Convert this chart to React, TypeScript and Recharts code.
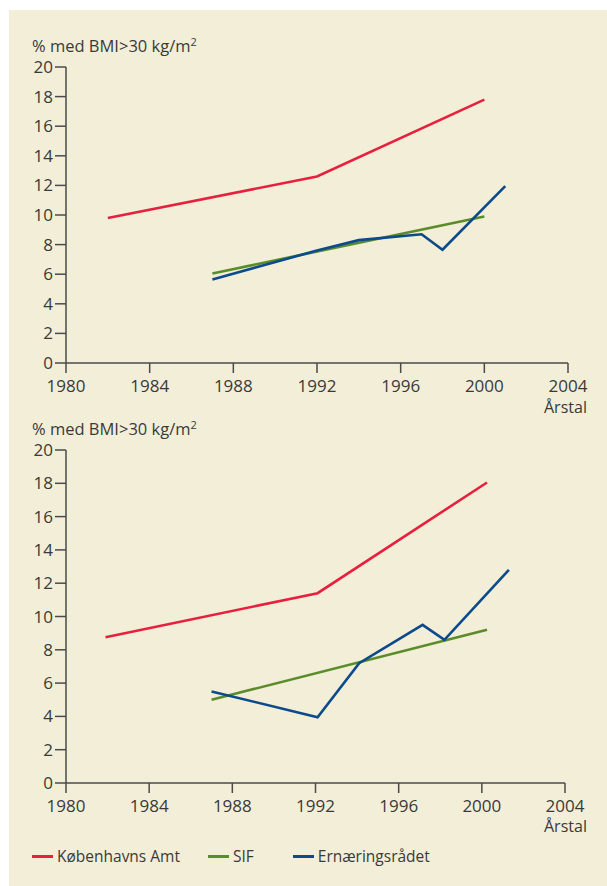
import React from "react";
import { LineChart, Line, XAxis, YAxis } from "recharts";

const xTicks = [1980, 1984, 1988, 1992, 1996, 2000, 2004];
const yTicks = [0, 2, 4, 6, 8, 10, 12, 14, 16, 18, 20];

const seriesNames = ["Københavns Amt", "SIF", "Ernæringsrådet"];
const seriesColors = ["#e8203f", "#5b8c2a", "#0b4a8b"];

// Top chart
const kbhTop = [
  { year: 1982, v: 9.8 },
  { year: 1992, v: 12.6 },
  { year: 2000, v: 17.8 },
];
const sifTop = [
  { year: 1987, v: 6.05 },
  { year: 2000, v: 9.9 },
];
const ernTop = [
  { year: 1987, v: 5.65 },
  { year: 1992, v: 7.6 },
  { year: 1994, v: 8.3 },
  { year: 1997, v: 8.7 },
  { year: 1998, v: 7.65 },
  { year: 2001, v: 11.95 },
];

// Bottom chart
const kbhBottom = [
  { year: 1981.9, v: 8.75 },
  { year: 1992.1, v: 11.4 },
  { year: 2000.25, v: 18.05 },
];
const sifBottom = [
  { year: 1987, v: 5.0 },
  { year: 2000.25, v: 9.2 },
];
const ernBottom = [
  { year: 1987, v: 5.5 },
  { year: 1992.1, v: 3.95 },
  { year: 1994.1, v: 7.2 },
  { year: 1997.15, v: 9.5 },
  { year: 1998.2, v: 8.6 },
  { year: 2001.3, v: 12.8 },
];

const axisColor = "#4a4a4a";
const textColor = "#3a3a3a";
const fontFamily = "'Open Sans', sans-serif";

const tickStyle = { fill: textColor, fontSize: 17, fontFamily };

function Chart({
  series,
  height,
  marginTop,
  marginRight,
}: {
  series: { year: number; v: number }[][];
  height: number;
  marginTop: number;
  marginRight: number;
}) {
  return (
    <LineChart
      width={607}
      height={height}
      margin={{ top: marginTop, right: marginRight, bottom: 0, left: 0 }}
    >
      <XAxis
        type="number"
        dataKey="year"
        domain={[1980, 2004]}
        ticks={xTicks}
        allowDataOverflow
        height={40}
        tickSize={10}
        tickMargin={7}
        stroke={axisColor}
        strokeWidth={1.5}
        tick={tickStyle}
        tickLine={{ stroke: axisColor, strokeWidth: 1.5 }}
        axisLine={{ stroke: axisColor, strokeWidth: 1.5 }}
      />
      <YAxis
        type="number"
        domain={[0, 20]}
        ticks={yTicks}
        width={66}
        tickSize={11}
        tickMargin={2}
        stroke={axisColor}
        strokeWidth={1.5}
        tick={tickStyle}
        tickLine={{ stroke: axisColor, strokeWidth: 1.5 }}
        axisLine={{ stroke: axisColor, strokeWidth: 1.5 }}
        interval={0}
      />
      {series.map((d, i) => (
        <Line
          key={seriesNames[i]}
          data={d}
          dataKey="v"
          name={seriesNames[i]}
          type="linear"
          stroke={seriesColors[i]}
          strokeWidth={2.6}
          dot={false}
          activeDot={false}
          isAnimationActive={false}
        />
      ))}
    </LineChart>
  );
}

const labelStyle: React.CSSProperties = {
  position: "absolute",
  fontFamily,
  color: textColor,
  whiteSpace: "nowrap",
};

function YLabel({ top }: { top: number }) {
  return (
    <div style={{ ...labelStyle, fontSize: 16.5, lineHeight: "16px", left: 32, top }}>
      % med BMI&gt;30 kg/m<sup style={{ fontSize: 11, verticalAlign: "6px", lineHeight: 0 }}>2</sup>
    </div>
  );
}

function XLabel({ top }: { top: number }) {
  return (
    <div style={{ ...labelStyle, fontSize: 16, lineHeight: "14px", left: 544, top }}>Årstal</div>
  );
}

export default function App() {
  return (
    <div
      style={{
        position: "absolute",
        left: 0,
        top: 0,
        width: 607,
        height: 886,
        background: "#ffffff",
        overflow: "hidden",
      }}
    >
      <div
        style={{
          position: "absolute",
          left: 9,
          top: 10,
          width: 598,
          height: 876,
          background: "#f2eed7",
        }}
      />
      <div style={{ position: "absolute", left: 0, top: 0 }}>
        <Chart series={[kbhTop, sifTop, ernTop]} height={403} marginTop={67} marginRight={39} />
      </div>
      <div style={{ position: "absolute", left: 0, top: 403 }}>
        <Chart series={[kbhBottom, sifBottom, ernBottom]} height={420} marginTop={47} marginRight={42} />
      </div>
      <YLabel top={38} />
      <YLabel top={421} />
      <XLabel top={400} />
      <XLabel top={819} />
      <div
        style={{
          position: "absolute",
          left: 32,
          top: 845,
          display: "flex",
          alignItems: "center",
          fontFamily,
          fontSize: 15.5,
          color: textColor,
        }}
      >
        {seriesNames.map((n, i) => (
          <div
            key={n}
            style={{
              display: "flex",
              alignItems: "center",
              marginRight: i === 0 ? 28 : i === 1 ? 39 : 0,
            }}
          >
            <span
              style={{
                display: "inline-block",
                width: 21,
                height: 3,
                background: seriesColors[i],
                marginRight: 4,
              }}
            />
            <span>{n}</span>
          </div>
        ))}
      </div>
    </div>
  );
}
